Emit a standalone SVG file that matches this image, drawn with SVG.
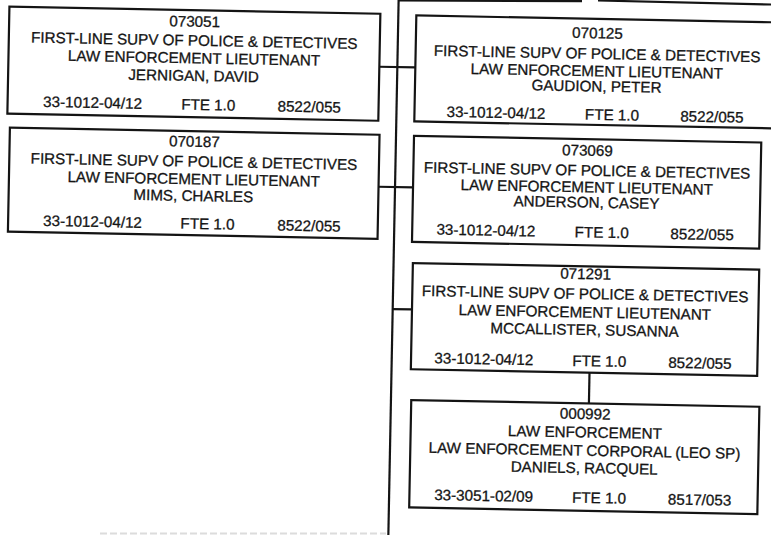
<svg xmlns="http://www.w3.org/2000/svg" width="771" height="535" viewBox="0 0 771 535">
<style>
.box{fill:#fff;stroke:#141414;stroke-width:2.2}
.conn{stroke:#141414;stroke-width:2.2;fill:none}
text{font-family:"Liberation Sans",Arial,sans-serif;font-size:15.2px;fill:#141414;stroke:#141414;stroke-width:0.3;text-anchor:middle}
</style>
<rect width="771" height="535" fill="#fff"/>
<g id="cutoff-above">
<line class="conn" x1="398" y1="0.3" x2="582" y2="1.2" stroke-width="2.5"/>
<line class="conn" x1="598" y1="0.5" x2="771" y2="4.5" stroke-width="2.5"/>
</g>
<g transform="rotate(1.1 390 267)">
<g id="connectors">
<line class="conn" x1="393.5" y1="-20" x2="393.5" y2="560"/>
<line class="conn" x1="375.5" y1="67" x2="411.5" y2="67"/>
<line class="conn" x1="377" y1="187" x2="411.5" y2="187"/>
<line class="conn" x1="393.5" y1="309" x2="412.8" y2="309"/>
<line class="conn" x1="591.5" y1="368.8" x2="591.5" y2="399.6"/>
</g>
<g id="n073051">
<rect class="box" x="4.5" y="14" width="371" height="107"/>
<text x="190" y="30.5">073051</text>
<text x="190" y="49.5">FIRST-LINE SUPV OF POLICE &amp; DETECTIVES</text>
<text x="190" y="67.1">LAW ENFORCEMENT LIEUTENANT</text>
<text x="190" y="84.8">JERNIGAN, DAVID</text>
<text x="89.5" y="113.6">33-1012-04/12</text>
<text x="205.2" y="113.6">FTE 1.0</text>
<text x="306.2" y="113.6">8522/055</text>
</g>
<g id="n070187">
<rect class="box" x="7.3" y="135" width="369.7" height="104"/>
<text x="192" y="150.5">070187</text>
<text x="192" y="170.5">FIRST-LINE SUPV OF POLICE &amp; DETECTIVES</text>
<text x="192" y="188.1">LAW ENFORCEMENT LIEUTENANT</text>
<text x="192" y="204.8">MIMS, CHARLES</text>
<text x="91.7" y="232.6">33-1012-04/12</text>
<text x="206.7" y="232.6">FTE 1.0</text>
<text x="308.2" y="232.6">8522/055</text>
</g>
<g id="n070125">
<rect class="box" x="411.5" y="15" width="363" height="106"/>
<text x="593" y="34.4">070125</text>
<text x="593" y="55">FIRST-LINE SUPV OF POLICE &amp; DETECTIVES</text>
<text x="593" y="72.4">LAW ENFORCEMENT LIEUTENANT</text>
<text x="593" y="87.6">GAUDION, PETER</text>
<text x="493" y="115.9">33-1012-04/12</text>
<text x="609" y="115.9">FTE 1.0</text>
<text x="709" y="115.9">8522/055</text>
</g>
<g id="n073069">
<rect class="box" x="411.5" y="135.4" width="347.3" height="106.1"/>
<text x="585.2" y="151.9">073069</text>
<text x="585.2" y="171.9">FIRST-LINE SUPV OF POLICE &amp; DETECTIVES</text>
<text x="585.2" y="188.6">LAW ENFORCEMENT LIEUTENANT</text>
<text x="585.2" y="203.8">ANDERSON, CASEY</text>
<text x="485.2" y="233.7">33-1012-04/12</text>
<text x="601" y="233.7">FTE 1.0</text>
<text x="701.4" y="233.7">8522/055</text>
</g>
<g id="n071291">
<rect class="box" x="412.8" y="262.6" width="346.4" height="106.2"/>
<text x="585.7" y="275.3">071291</text>
<text x="585.7" y="295.3">FIRST-LINE SUPV OF POLICE &amp; DETECTIVES</text>
<text x="585.7" y="313.7">LAW ENFORCEMENT LIEUTENANT</text>
<text x="585.7" y="331.3">MCCALLISTER, SUSANNA</text>
<text x="485.6" y="362.4">33-1012-04/12</text>
<text x="601.1" y="362.4">FTE 1.0</text>
<text x="701.7" y="362.4">8522/055</text>
</g>
<g id="n000992">
<rect class="box" x="413.8" y="399.6" width="348.2" height="107.4"/>
<text x="588" y="415.3">000992</text>
<text x="588" y="433.7">LAW ENFORCEMENT</text>
<text x="588" y="452">LAW ENFORCEMENT CORPORAL (LEO SP)</text>
<text x="588" y="469.4">DANIELS, RACQUEL</text>
<text x="488" y="499.1">33-3051-02/09</text>
<text x="603.5" y="499.1">FTE 1.0</text>
<text x="704" y="499.1">8517/053</text>
</g>
</g>
<line x1="100" y1="533.5" x2="386" y2="533.5" stroke="#dcdcdc" stroke-width="2" stroke-dasharray="7 3"/>
</svg>
